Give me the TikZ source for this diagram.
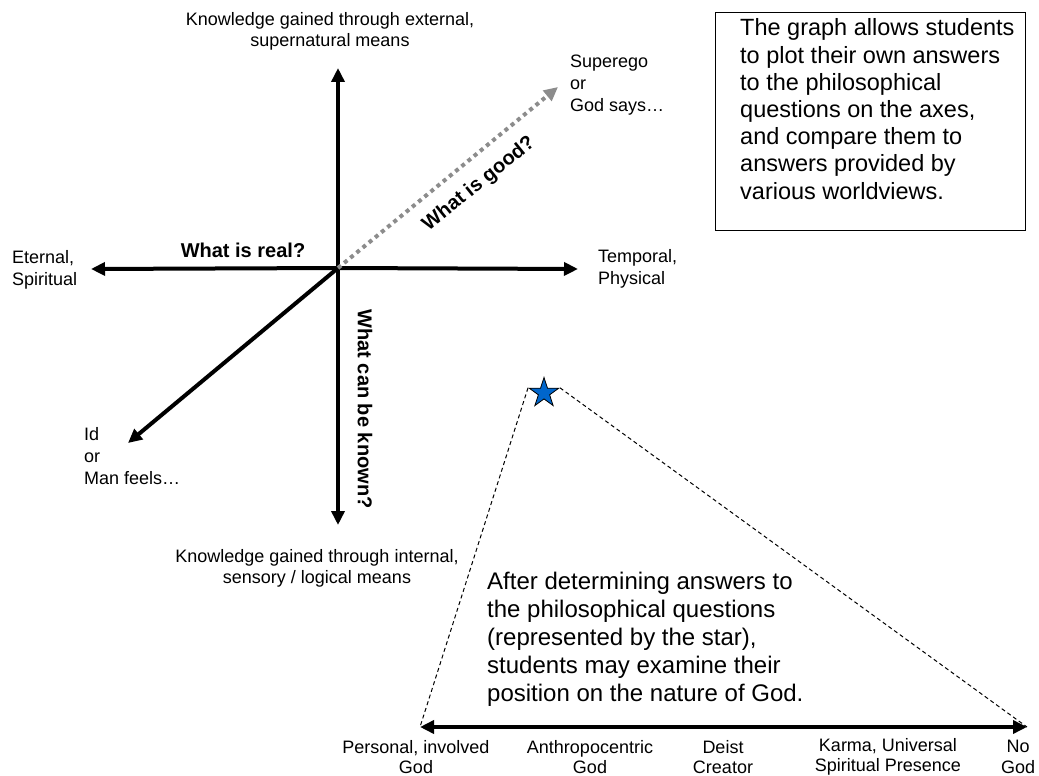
\documentclass[tikz,border=0pt]{standalone}
\usepackage{fontspec}
\setmainfont{Liberation Sans}
\usetikzlibrary{arrows.meta,shapes.geometric}
\definecolor{starblue}{HTML}{0066CC}
\definecolor{dotgray}{HTML}{8C8C8C}
\begin{document}
\begin{tikzpicture}[x=1pt,y=-1pt,
  axis/.style={line width=4pt,-{Triangle[length=14pt,width=13pt]}},
  lbl/.style={font=\fontsize{18}{22}\selectfont,inner sep=0pt,align=left},
  clbl/.style={font=\fontsize{18}{21}\selectfont,inner sep=0pt,align=center},
  question/.style={font=\bfseries\fontsize{20}{24}\selectfont,inner sep=0pt},
  bigtext/.style={font=\fontsize{23.5}{27.2}\selectfont,inner sep=0pt,align=left},
  guide/.style={line width=1pt,dash pattern=on 4pt off 3pt}]
\useasboundingbox (0,0) rectangle (1039,776);
% axis coordinates
\coordinate (O) at (338,268);
\coordinate (up) at (338,68);
\coordinate (down) at (338,525);
\coordinate (left) at (91,269);
\coordinate (right) at (578,269);
\coordinate (diag) at (128,443);
\coordinate (gtip) at (558,87);
\coordinate (bl) at (420,727);
\coordinate (br) at (1027,727);
% axes
\draw[axis] (O) -- (up);
\draw[axis] (O) -- (down);
\draw[axis] (O) -- (left);
\draw[axis] (O) -- (right);
\draw[axis] (O) -- (diag);
\draw[line width=4pt,dotgray,dash pattern=on 4pt off 4pt,-{Triangle[length=14pt,width=13pt]}] (O) -- (gtip);
% axis labels
\node[clbl] (ktop) at (330,31) {Knowledge gained through external,\\supernatural means};
\node[clbl] (kbot) at (317,568) {Knowledge gained through internal,\\sensory / logical means};
\node[lbl,anchor=west] (sup) at (570,85) {Superego\\or\\God says…};
\node[lbl,anchor=west] (eter) at (12,270) {Eternal,\\Spiritual};
\node[lbl,anchor=west] (temp) at (598,269) {Temporal,\\Physical};
\node[lbl,anchor=west] (idl) at (84,456) {Id\\or\\Man feels…};
% questions
\node[question] (qreal) at (243,250) {What is real?};
\node[question,rotate=39] (qgood) at (479,184) {What is good?};
\node[question,rotate=-90] (qknown) at (365,409) {What can be known?};
% box
\node[draw=black,line width=1pt,minimum width=310pt,minimum height=217pt,inner sep=0pt] (box) at (870,121.5) {};
\node[bigtext,anchor=west] (boxtext) at (740,109) {The graph allows students\\to plot their own answers\\to the philosophical\\questions on the axes,\\and compare them to\\answers provided by\\various worldviews.};
% star and triangle
\node[star,star points=5,star point ratio=2.618,minimum size=31pt,inner sep=0pt,fill=starblue,draw=black,line width=0.8pt] (star) at (544,393) {};
\draw[guide] (star.outer point 2) -- (bl);
\draw[guide] (star.outer point 5) -- (br);
\draw[line width=4pt,{Triangle[length=14pt,width=13pt]}-{Triangle[length=14pt,width=13pt]}] (bl) -- (br);
\node[font=\fontsize{24}{27.9}\selectfont,inner sep=0pt,align=left,anchor=west] (para) at (487,639) {After determining answers to\\the philosophical questions\\(represented by the star),\\students may examine their\\position on the nature of God.};
% bottom labels
\node[clbl,font=\fontsize{18}{20.5}\selectfont] (g1) at (416,757) {Personal, involved\\God};
\node[clbl,font=\fontsize{18}{20.5}\selectfont] (g2) at (590,757) {Anthropocentric\\God};
\node[clbl,font=\fontsize{18}{20.5}\selectfont] (g3) at (723,757) {Deist\\Creator};
\node[clbl,font=\fontsize{18}{20.5}\selectfont] (g4) at (888,757) {Karma, Universal\\Spiritual Presence};
\node[clbl,font=\fontsize{18}{20.5}\selectfont] (g5) at (1018,757) {No\\God};
\end{tikzpicture}
\end{document}
